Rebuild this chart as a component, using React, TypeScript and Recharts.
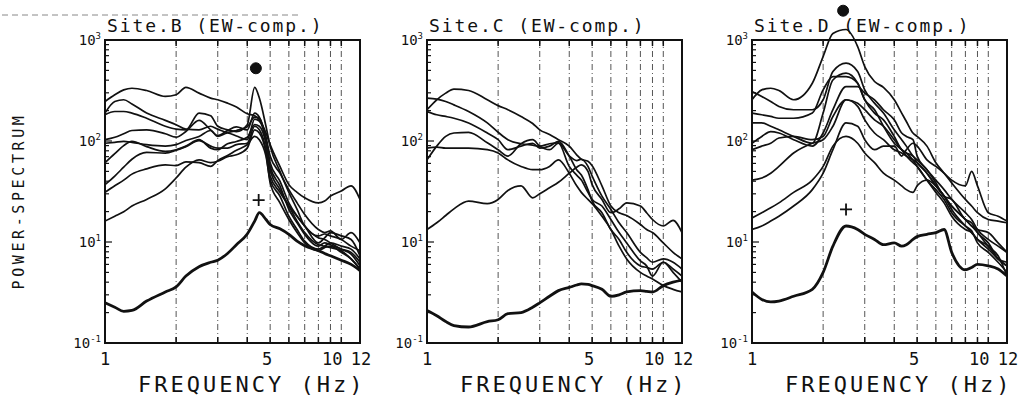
import React from 'react';
import { LineChart, Line, XAxis, YAxis, ReferenceLine, ReferenceArea, ReferenceDot } from 'recharts';

// ---- shared axes ----
const freq = [1, 1.1, 1.2, 1.3, 1.5, 1.8, 2, 2.2, 2.5, 2.8, 3, 3.3, 3.6, 4, 4.3, 4.5, 4.8, 5, 5.5, 6, 6.5, 7, 8, 8.5, 9, 10, 11, 12];
const xTicks = [1, 2, 3, 4, 5, 6, 7, 8, 9, 10, 12];
const xLabelTicks = [1, 5, 10, 12];
const gridFreqs = [2, 3, 4, 5, 6, 7, 8, 9, 10];
const yTicks = [1, 2, 3, 4, 5, 6, 7, 8, 9, 10, 20, 30, 40, 50, 60, 70, 80, 90, 100, 200, 300, 400, 500, 600, 700, 800, 900, 1000];
const yMajor = [1, 10, 100, 1000];
const yExp = ['-1', '1', '2', '3'];

// ---- Site B ----
const siteB1 = [246, 287, 321, 333, 316, 276, 287, 340, 298, 266, 256, 237, 217, 186, 178, 162, 120, 92, 56, 37, 31, 27.4, 24.4, 25.4, 28.5, 32, 36, 26.4];
const siteB2 = [182, 196, 196, 189, 168, 140, 131, 129, 189, 178, 140, 129, 124, 145, 340, 266, 140, 89, 50, 31, 21, 14.4, 11.5, 12, 11.5, 10.6, 9.1, 8.2];
const siteB3 = [103, 109, 118, 127, 129, 118, 109, 124, 160, 129, 113, 127, 138, 129, 189, 172, 109, 71, 48, 33, 24.4, 18.7, 13.3, 12.4, 12.9, 10.6, 12.4, 9.8];
const siteB4 = [95, 97, 99, 97, 92, 89, 92, 101, 111, 127, 111, 120, 112, 103, 165, 157, 103, 61, 40, 24.4, 18, 14.4, 9.8, 11, 12.4, 11.5, 10.6, 7.3];
const siteB5 = [61, 75, 90, 99, 88, 79, 82, 89, 103, 85, 82, 94, 99, 109, 145, 140, 95, 56, 36, 21, 15.5, 11.9, 9.1, 9.8, 9.4, 8.5, 7.9, 6.3];
const siteB6 = [37, 45, 55, 66, 77, 76, 81, 88, 101, 89, 85, 85, 92, 95, 140, 129, 82, 45, 31, 22.7, 18, 14.4, 11, 10.6, 9.8, 8.5, 7.6, 5.8];
const siteB7 = [31, 36, 41, 47, 53, 58, 57, 62, 61, 56, 64, 72, 81, 92, 111, 103, 71, 41, 28.5, 18, 13.3, 10.2, 8.5, 9.1, 9.8, 9.1, 8.5, 6.8];
const siteB8 = [16.1, 18, 19.9, 22.7, 26.4, 33.6, 43, 55, 65, 61, 63, 70, 73, 85, 129, 120, 76, 38.5, 24.4, 16.7, 12.4, 9.8, 8.2, 8.8, 9.1, 7.9, 6.8, 5.4];
const siteB9 = [189, 246, 256, 233, 189, 160, 145, 131, 129, 140, 131, 122, 127, 138, 172, 168, 99, 52, 33, 22.7, 16.1, 12.4, 9.4, 9.1, 8.8, 8.2, 6.8, 5.4];
const siteBBase = [2.5, 2.26, 2.06, 2.1, 2.6, 3.2, 3.6, 4.6, 5.7, 6.3, 6.6, 7.7, 9.4, 12, 16.1, 19.5, 16.7, 14.9, 13.5, 11.9, 10.2, 9.2, 8.2, 7.7, 7.3, 6.6, 6.0, 5.2];

// ---- Site C ----
const siteC1 = [204, 256, 298, 326, 316, 256, 224, 204, 175, 149, 129, 116, 103, 89, 73, 66, 63, 57, 36, 22.7, 19.5, 18.3, 14.9, 13.3, 12.4, 9.8, 7.9, 6.8];
const siteC2 = [266, 260, 246, 228, 196, 151, 122, 103, 94, 91, 89, 94, 96, 71, 64, 66, 56, 45, 28.5, 21, 15.5, 12.4, 7.9, 7.0, 6.3, 6.8, 6.3, 5.4];
const siteC3 = [196, 182, 175, 168, 151, 120, 103, 82, 89, 95, 85, 89, 99, 71, 52, 46, 33, 25.4, 19.5, 13.3, 10.6, 7.9, 5.8, 5.6, 5.4, 6.3, 5.4, 4.6];
const siteC4 = [65, 89, 111, 120, 122, 96, 82, 71, 94, 103, 89, 82, 95, 56, 46, 41, 31, 26.4, 22.7, 16.7, 12.4, 9.8, 6.5, 5.8, 4.6, 6.3, 5.0, 4.0];
const siteC5 = [85, 87, 85, 85, 85, 82, 76, 65, 56, 52, 52, 56, 65, 48, 36, 31, 26.4, 24, 18, 13.3, 9.1, 6.8, 5.0, 4.6, 4.3, 3.7, 3.4, 3.2];
const siteC6 = [13.3, 15.5, 18.3, 21.3, 25.4, 24, 26.4, 32.4, 36, 27.4, 30, 34.4, 39, 48, 55, 58, 50, 37, 26.4, 19.5, 21.3, 24.4, 22.7, 19.5, 16.7, 14.4, 16.4, 12.4];
const siteCBase = [2.1, 1.86, 1.63, 1.49, 1.44, 1.63, 1.7, 1.95, 2.0, 2.26, 2.5, 2.9, 3.3, 3.55, 3.75, 3.85, 3.8, 3.7, 3.4, 2.9, 3.0, 3.2, 3.3, 3.25, 3.2, 3.7, 4.0, 4.2];

// ---- Site D ----
const siteD1 = [256, 321, 333, 316, 256, 373, 685, 1160, 1270, 861, 546, 388, 340, 256, 189, 156, 120, 111, 89, 61, 48, 38.5, 26.4, 22.7, 19.5, 16.7, 16.1, 15.5];
const siteD2 = [309, 276, 246, 220, 204, 204, 256, 488, 589, 488, 321, 237, 189, 129, 103, 89, 71, 65, 52, 38.5, 28.5, 26.4, 16.7, 15.5, 12.4, 9.8, 6.8, 5.8];
const siteD3 = [189, 182, 175, 168, 168, 189, 321, 434, 434, 373, 256, 189, 162, 111, 82, 76, 71, 61, 48, 36, 28.5, 22.7, 16.7, 14.4, 12.4, 9.1, 7.3, 4.6];
const siteD4 = [151, 151, 140, 129, 111, 95, 189, 402, 469, 373, 256, 204, 140, 95, 82, 71, 61, 56, 41, 33, 26.4, 19.5, 14.4, 12.9, 9.8, 7.9, 6.3, 5.0];
const siteD5 = [95, 111, 124, 120, 103, 89, 120, 204, 346, 346, 298, 256, 204, 162, 120, 111, 103, 71, 52, 41, 33, 26.4, 19.5, 16.7, 13.3, 10.6, 9.1, 7.9];
const siteD6 = [82, 89, 95, 107, 111, 103, 111, 175, 256, 237, 204, 162, 140, 103, 82, 76, 65, 56, 41, 31, 24.4, 18, 13.3, 12.4, 10.6, 8.5, 6.8, 5.8];
const siteD7 = [41, 43, 48, 56, 76, 95, 103, 140, 256, 220, 162, 120, 103, 82, 76, 71, 65, 61, 48, 36, 28.5, 21, 14.4, 12.4, 10.6, 9.1, 6.8, 6.3];
const siteD8 = [17.3, 19.5, 21.8, 24.4, 31, 41, 56, 89, 111, 95, 76, 61, 48, 41, 36, 33, 31, 36, 41, 36, 28.5, 22.7, 16.7, 14.4, 13.3, 12.4, 9.8, 7.9];
const siteD9 = [13.3, 14.4, 16.1, 18, 22.7, 33, 48, 82, 151, 140, 103, 82, 89, 89, 71, 82, 95, 89, 65, 56, 48, 41, 36, 50, 36, 19.5, 18, 16.1];
const siteDBase = [3.2, 2.7, 2.55, 2.6, 2.9, 3.4, 5.0, 9.1, 14.4, 13.3, 11.9, 10.6, 9.4, 9.8, 9.1, 9.4, 10.6, 11.3, 11.9, 12.4, 13.3, 7.9, 5.3, 5.6, 6.0, 5.8, 5.4, 4.6];

// markers: [frequency, value]
const markerDotB = [4.35, 525];
const markerPlusB = [4.47, 26];
const markerDotD = [2.43, 1950];
const markerPlusD = [2.5, 21];

const FONT = '"DejaVu Sans Mono", "Liberation Mono", monospace';
const INK = '#111';

type Panel = {
  title: string;
  left: number;
  curves: number[][];
  base: number[];
  dot?: number[];
  plus?: number[];
};

const panels: Panel[] = [
  { title: 'Site.B (EW-comp.)', left: 105, curves: [siteB1, siteB2, siteB3, siteB4, siteB5, siteB6, siteB7, siteB8, siteB9], base: siteBBase, dot: markerDotB, plus: markerPlusB },
  { title: 'Site.C (EW-comp.)', left: 427, curves: [siteC1, siteC2, siteC3, siteC4, siteC5, siteC6], base: siteCBase },
  { title: 'Site.D (EW-comp.)', left: 752, curves: [siteD1, siteD2, siteD3, siteD4, siteD5, siteD6, siteD7, siteD8, siteD9], base: siteDBase, dot: markerDotD, plus: markerPlusD },
];

const buildRows = (p: Panel) =>
  freq.map((f, i) => {
    const row: any = { f, base: p.base[i] };
    p.curves.forEach((c, k) => { row['s' + k] = c[i]; });
    return row;
  });

const XTick = (props: any) => {
  const { x, y, payload } = props;
  const v = payload.value;
  const inner = v > 1 && v < 12;
  const showLabel = xLabelTicks.indexOf(v) >= 0;
  const dx = v === 10 ? -9 : v === 12 ? 1 : v === 5 ? -3 : 0;
  return (
    <g>
      {inner && <line x1={x} x2={x} y1={y} y2={y - 6} stroke={INK} strokeWidth={1.5} />}
      {showLabel && (
        <text x={x + dx} y={y + 22} textAnchor="middle" fontFamily={FONT} fontSize={17} fill={INK}>
          {String(v)}
        </text>
      )}
    </g>
  );
};

const YTick = (props: any) => {
  const { x, y, payload } = props;
  const v = payload.value;
  const k = yMajor.indexOf(v);
  const len = k >= 0 ? 7 : 4;
  return (
    <g>
      <line x1={x} x2={x + len} y1={y} y2={y} stroke={INK} strokeWidth={1.2} />
      {k >= 0 && (
        <text x={x - 4} y={y + 5} textAnchor="end" fontFamily={FONT} fontSize={14} fill={INK}>
          10<tspan dy={-6} fontSize={9}>{yExp[k]}</tspan>
        </text>
      )}
    </g>
  );
};

const PlusShape = (props: any) => {
  const { cx, cy } = props;
  return <path d={`M${cx - 6},${cy}H${cx + 6}M${cx},${cy - 6}V${cy + 6}`} stroke={INK} strokeWidth={1.8} fill="none" />;
};

const YAXIS_W = 45;
const PLOT_W = 255;
const RIGHT_M = 13;
const CHART_H = 407;
const XAXIS_H = 64;

const PanelChart = ({ p }: { p: Panel }) => {
  const rows = buildRows(p);
  return (
    <div style={{ position: 'absolute', left: p.left - YAXIS_W, top: 0 }}>
      <LineChart width={YAXIS_W + PLOT_W + RIGHT_M} height={CHART_H} data={rows} margin={{ top: 9.6, right: RIGHT_M, bottom: 0, left: 0 }}>
        <XAxis
          dataKey="f"
          type="number"
          scale="log"
          domain={[1, 12]}
          allowDataOverflow
          ticks={xTicks}
          tick={XTick}
          tickSize={0}
          tickMargin={0}
          axisLine={false}
          tickLine={false}
          height={XAXIS_H}
          interval={0}
        />
        <YAxis
          type="number"
          scale="log"
          domain={[1, 2000]}
          allowDataOverflow
          ticks={yTicks}
          tick={YTick}
          tickSize={0}
          tickMargin={0}
          axisLine={false}
          tickLine={false}
          width={YAXIS_W}
          interval={0}
        />
        {gridFreqs.map((g) => (
          <ReferenceLine key={'g' + g} segment={[{ x: g, y: 1 }, { x: g, y: 1000 }]} stroke="#555" strokeWidth={1} strokeDasharray="6 3 1 3" />
        ))}
        {gridFreqs.map((g) => (
          <ReferenceLine key={'t' + g} segment={[{ x: g, y: 1000 }, { x: g, y: 870 }]} stroke={INK} strokeWidth={1.5} />
        ))}
        <ReferenceArea x1={1} x2={12} y1={1} y2={1000} stroke={INK} strokeWidth={2} fill="none" fillOpacity={0} />
        {p.curves.map((_, k) => (
          <Line key={'s' + k} dataKey={'s' + k} type="monotone" stroke={INK} strokeWidth={1.7} dot={false} isAnimationActive={false} />
        ))}
        <Line dataKey="base" type="monotone" stroke={INK} strokeWidth={2.8} dot={false} isAnimationActive={false} />
        {p.dot && <ReferenceDot x={p.dot[0]} y={p.dot[1]} r={5.5} fill={INK} stroke={INK} ifOverflow="visible" />}
        {p.plus && <ReferenceDot x={p.plus[0]} y={p.plus[1]} r={6} shape={PlusShape} ifOverflow="visible" />}
      </LineChart>
    </div>
  );
};

export default function App() {
  return (
    <div style={{ position: 'absolute', left: 0, top: 0, width: 1020, height: 407, background: '#fff', overflow: 'hidden' }}>
      {panels.map((p) => (
        <PanelChart key={p.title} p={p} />
      ))}
      <svg width={1020} height={407} style={{ position: 'absolute', left: 0, top: 0, pointerEvents: 'none' }}>
        <line x1={2} x2={300} y1={15} y2={15} stroke="#888" strokeWidth={1} strokeDasharray="6 4" />
        {panels.map((p) => (
          <text key={'t' + p.title} x={p.left + 2} y={32} fontFamily={FONT} fontSize={18} letterSpacing={1.9} fill={INK}>
            {p.title}
          </text>
        ))}
        {panels.map((p) => (
          <text key={'x' + p.title} x={p.left + 33} y={392} fontFamily={FONT} fontSize={22} letterSpacing={3} fill={INK}>
            FREQUENCY (Hz)
          </text>
        ))}
        <text x={24} y={201} transform="rotate(-90 24 201)" textAnchor="middle" fontFamily={FONT} fontSize={15} letterSpacing={3.6} fill={INK}>
          POWER-SPECTRUM
        </text>
      </svg>
    </div>
  );
}
